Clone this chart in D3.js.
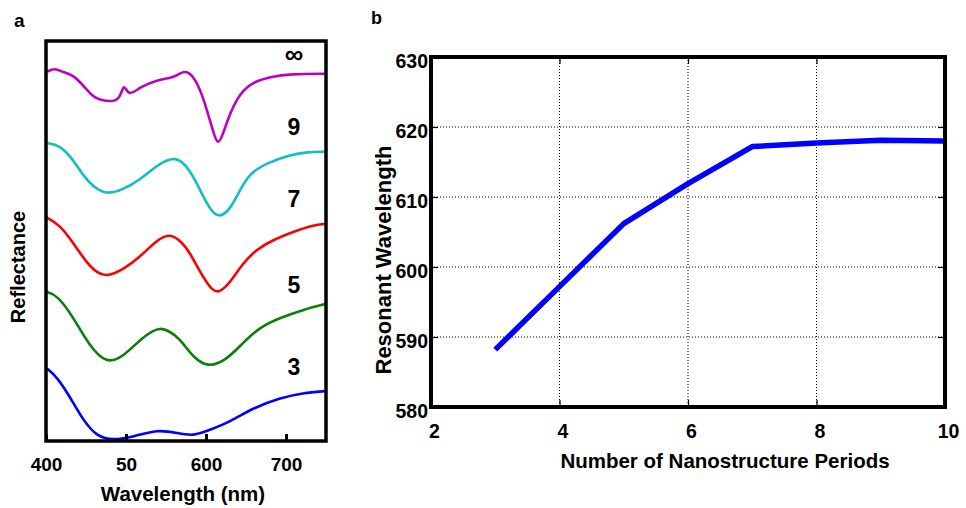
<!DOCTYPE html>
<html><head><meta charset="utf-8">
<script src="https://cdn.jsdelivr.net/npm/d3@7"></script>
<style>body{margin:0;background:#fff}svg{display:block}text{font-family:"Liberation Sans",Arial,sans-serif;font-weight:bold;fill:#000}</style>
</head><body><svg id="c" width="966" height="508"></svg>
<script>
// ---------- Panel a data: reflectance spectra (a.u., vertically offset) ----------
const wlInf = [400,411,421,434,446,459,467.5,482.5,492.5,497.5,502.5,517.5,539,559,567.5,577.5,590,601,609,615,621,630,642.5,659,680,705,750];
const rInf  = [9.22,9.33,9.22,9.15,8.9,8.6,8.53,8.48,8.55,8.98,8.6,8.85,9.03,9.08,9.2,9.27,8.95,8.3,7.72,7.38,7.66,8.2,8.7,8.98,9.1,9.18,9.18];
const wl9 = [400,417.5,434,446,459,476,496,517.5,539,562.5,580,592.5,605,616,630,642.5,655,676,705,726,750];
const r9  = [7.45,7.4,7.03,6.65,6.35,6.16,6.28,6.53,6.9,7.15,6.78,6.28,5.78,5.57,5.78,6.28,6.7,6.95,7.15,7.23,7.23];
const wl7 = [400,417.5,434,451,464,476,496,517.5,539,555,571,580,592.5,605,615,630,646,664,684,709,734,750];
const r7  = [5.6,5.4,4.95,4.45,4.2,4.11,4.28,4.6,5.03,5.2,4.95,4.7,4.23,3.83,3.67,3.95,4.45,4.8,5.03,5.23,5.4,5.43];
const wl5 = [400,414,434,455,476,496,517.5,542.5,564,571,584,602.5,626,646,667.5,692.5,721,750];
const r5  = [3.73,3.65,3.1,2.35,1.93,2.1,2.53,2.92,2.6,2.45,2.1,1.83,2.03,2.45,2.85,3.08,3.28,3.43];
const wl3 = [400,414,430,446,464,484,509,539,564,584,605,630,659,692.5,721,750];
const r3  = [1.83,1.6,1.1,0.53,0.1,0.02,0.1,0.29,0.2,0.12,0.28,0.48,0.83,1.08,1.2,1.25];
const seriesLabels = ["\u221e","9","7","5","3"];
const seriesColors = ["#c000c0","#10bfbf","#ff0000","#0a800a","#0000ff"];
const wlTicks = [400,500,600,700];
const wlTickLabels = ["400","50","600","700"];

// ---------- Panel b data ----------
const periods = [3,4,5,6,7,8,9,10];
const resonant = [588.2,597.2,606.2,611.9,617.2,617.7,618.1,618.0];
const periodTicks = [2,4,6,8,10];
const resTicks = [580,590,600,610,620,630];

const svg = d3.select("#c");

// ===== Panel a =====
const ax = {l:46,r:326,t:41,b:441};
const xa = d3.scaleLinear().domain([400,750]).range([ax.l,ax.r]);
const ya = d3.scaleLinear().domain([0,10]).range([ax.b,ax.t]);
svg.append("clipPath").attr("id","clipA").append("rect")
  .attr("x",ax.l).attr("y",ax.t).attr("width",ax.r-ax.l).attr("height",ax.b-ax.t);
const seriesA = [[wlInf,rInf],[wl9,r9],[wl7,r7],[wl5,r5],[wl3,r3]];
const lineA = d3.line().x(d=>xa(d[0])).y(d=>ya(d[1])).curve(d3.curveBasis);
seriesA.forEach((s,i)=>{
  const pts = s[0].map((w,j)=>[w,s[1][j]]);
  svg.append("path").attr("clip-path","url(#clipA)").attr("d",lineA(pts))
    .attr("fill","none").attr("stroke",seriesColors[i]).attr("stroke-width",2.6)
    .attr("stroke-linejoin","round").attr("stroke-linecap","round");
});
// bottom axis with inward ticks
const gxa = svg.append("g").attr("transform",`translate(0,${ax.b})`)
  .call(d3.axisBottom(xa).tickValues(wlTicks).tickSize(-7).tickFormat((d,i)=>wlTickLabels[i]));
gxa.select(".domain").remove();
gxa.selectAll(".tick line").attr("stroke","#000").attr("stroke-width",3);
gxa.selectAll(".tick text").attr("y",30).attr("dy",0).style("font-size","19px");
svg.append("rect").attr("x",ax.l).attr("y",ax.t).attr("width",ax.r-ax.l).attr("height",ax.b-ax.t)
  .attr("fill","none").attr("stroke","#000").attr("stroke-width",3.5);
// curve labels
const labY = [63,135,207,293,375];
seriesLabels.forEach((t,i)=>{
  svg.append("text").attr("x",294).attr("y",labY[i]).attr("text-anchor","middle")
    .style("font-size", i===0?"26px":"23px").text(t);
});
svg.append("text").attr("x",183).attr("y",501).attr("text-anchor","middle").style("font-size","20.5px").text("Wavelength (nm)");
svg.append("text").attr("transform","translate(25,267) rotate(-90)").attr("text-anchor","middle").style("font-size","20px").text("Reflectance");
svg.append("text").attr("x",14).attr("y",27).style("font-size","19px").text("a");

// ===== Panel b =====
const bx = {l:431,r:945,t:57,b:407};
const xb = d3.scaleLinear().domain([2,10]).range([bx.l,bx.r]);
const yb = d3.scaleLinear().domain([580,630]).range([bx.b,bx.t]);
// grid
const gridX = periodTicks.filter(d=>d>2&&d<10);
const gridY = resTicks.filter(d=>d>580&&d<630);
svg.append("g").selectAll("line").data(gridX).join("line")
  .attr("x1",d=>xb(d)).attr("x2",d=>xb(d)).attr("y1",bx.t).attr("y2",bx.b)
  .attr("stroke","#000").attr("stroke-width",1).attr("stroke-dasharray","1,2");
svg.append("g").selectAll("line").data(gridY).join("line")
  .attr("y1",d=>yb(d)).attr("y2",d=>yb(d)).attr("x1",bx.l).attr("x2",bx.r)
  .attr("stroke","#000").attr("stroke-width",1).attr("stroke-dasharray","1,2");
// axes (ticks inward on all sides)
const gxb = svg.append("g").attr("transform",`translate(0,${bx.b})`)
  .call(d3.axisBottom(xb).tickValues(periodTicks).tickSize(-7).tickFormat(d3.format("d")));
gxb.selectAll(".tick text").attr("y",31).attr("dx",3).attr("dy",0).style("font-size","19.5px");
const gxt = svg.append("g").attr("transform",`translate(0,${bx.t})`)
  .call(d3.axisTop(xb).tickValues(periodTicks).tickSize(-7).tickFormat(""));
const gyb = svg.append("g").attr("transform",`translate(${bx.l},0)`)
  .call(d3.axisLeft(yb).tickValues(resTicks).tickSize(-7).tickFormat(d3.format("d")));
gyb.selectAll(".tick text").attr("x",-3).attr("dy","0.92em").attr("y",-7).style("font-size","19.5px");
const gyr = svg.append("g").attr("transform",`translate(${bx.r},0)`)
  .call(d3.axisRight(yb).tickValues(resTicks).tickSize(-7).tickFormat(""));
[gxb,gxt,gyb,gyr].forEach(g=>{g.select(".domain").remove();g.selectAll(".tick line").attr("stroke","#000").attr("stroke-width",1.2);});
// data line
const lineB = d3.line().x((d,i)=>xb(periods[i])).y(d=>yb(d));
svg.append("path").attr("d",lineB(resonant)).attr("fill","none").attr("stroke","#0000ff")
  .attr("stroke-width",5.5).attr("stroke-linejoin","round");
svg.append("rect").attr("x",bx.l).attr("y",bx.t).attr("width",bx.r-bx.l).attr("height",bx.b-bx.t)
  .attr("fill","none").attr("stroke","#000").attr("stroke-width",4);
svg.append("text").attr("x",725).attr("y",468).attr("text-anchor","middle").style("font-size","20.5px").text("Number of Nanostructure Periods");
svg.append("text").attr("transform","translate(391,260) rotate(-90)").attr("text-anchor","middle").style("font-size","22px").text("Resonant Wavelength");
svg.append("text").attr("x",371).attr("y",24).style("font-size","18px").text("b");
</script></body></html>
